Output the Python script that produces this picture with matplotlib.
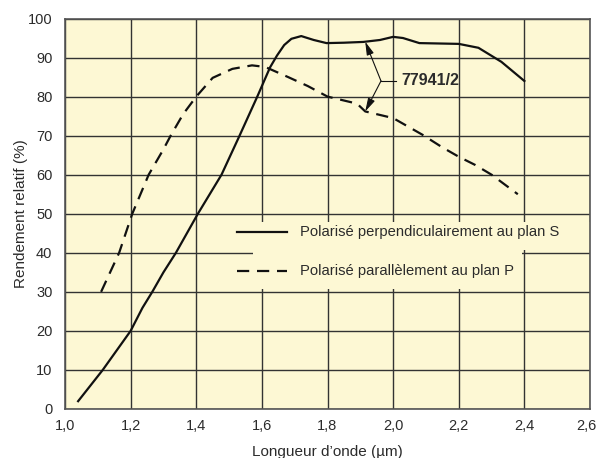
import matplotlib
matplotlib.use("Agg")
import matplotlib.pyplot as plt
from matplotlib.patches import Rectangle
from matplotlib.transforms import ScaledTranslation
import numpy as np

# Polarisation S (perpendiculaire) - trait plein
s_x = [1.04, 1.115, 1.20, 1.236, 1.266, 1.30, 1.338, 1.405, 1.477, 1.532, 1.586, 1.625,
       1.646, 1.668, 1.69, 1.72, 1.758, 1.797, 1.85, 1.909, 1.96, 2.00, 2.03, 2.08,
       2.20, 2.26, 2.33, 2.40]
s_y = [2, 10, 20, 25.9, 30, 35, 40, 50, 60, 70, 80, 87.5,
       90.5, 93.2, 94.8, 95.5, 94.5, 93.7, 93.8, 94.0, 94.5, 95.3, 95.0, 93.7,
       93.5, 92.5, 88.9, 84.0]

# Polarisation P (parallele) - tirets
p_x = [1.11, 1.165, 1.205, 1.255, 1.30, 1.322, 1.36, 1.40, 1.45, 1.51, 1.57, 1.61,
       1.68, 1.74, 1.80, 1.89, 1.915, 2.00, 2.09, 2.15, 2.20, 2.25, 2.30, 2.38]
p_y = [30, 40, 50, 60, 66.5, 70, 75.5, 80, 84.8, 87.1, 88.0, 87.6,
       85.0, 82.7, 80.0, 78.2, 76.2, 74.5, 70.2, 67.0, 64.6, 62.5, 60.0, 55.0]

x_ticks = [1.0, 1.2, 1.4, 1.6, 1.8, 2.0, 2.2, 2.4, 2.6]
x_labels = ["1,0", "1,2", "1,4", "1,6", "1,8", "2,0", "2,2", "2,4", "2,6"]
y_ticks = list(range(0, 101, 10))

label_s = "Polarisé perpendiculairement au plan S"
label_p = "Polarisé parallèlement au plan P"
ref_text = "77941/2"

plt.rcParams["font.family"] = ["Liberation Sans Narrow", "Liberation Sans", "DejaVu Sans"]
text_col = "#2b2b2b"
bg_col = "#fdf8d4"
line_col = "#111111"

fig = plt.figure(figsize=(5.96, 4.58), dpi=100)
ax = fig.add_axes([65 / 596, 49 / 458, 525 / 596, 390.5 / 458])
ax.set_facecolor(bg_col)

ax.set_xlim(1.0, 2.6)
ax.set_ylim(0, 100)
ax.set_xticks(x_ticks)
ax.set_xticklabels(x_labels)
ax.set_yticks(y_ticks)
ax.tick_params(length=0, labelsize=10.5, colors=text_col)
ax.tick_params(axis="x", pad=7)
ax.tick_params(axis="y", pad=9)
ax.grid(True, color="#333333", lw=1.0, zorder=1)
ax.set_axisbelow(True)
for sp in ax.spines.values():
    sp.set_color("#555555")
    sp.set_linewidth(1.2)

# dernier libelle un peu a gauche pour rester dans la figure
last = ax.get_xticklabels()[-1]
last.set_transform(last.get_transform() + ScaledTranslation(-4 / 100, 0, fig.dpi_scale_trans))

# zone de legende : masque le quadrillage
for (x0, y0, w, h) in [(0.358, 0.407, 0.642, 0.072), (0.358, 0.307, 0.512, 0.100)]:
    ax.add_patch(Rectangle((x0, y0), w, h, transform=ax.transAxes,
                           facecolor=bg_col, edgecolor="none", zorder=1.5))

ax.plot(s_x, s_y, color=line_col, lw=1.6, zorder=3)
ax.plot(p_x, p_y, color=line_col, lw=1.6, zorder=3, dashes=(5.5, 3.5))

ax.plot([0.3276, 0.4229], [0.453, 0.453], transform=ax.transAxes,
        color=line_col, lw=1.6, zorder=3)
ax.plot([0.3276, 0.4229], [0.353, 0.353], transform=ax.transAxes,
        color=line_col, lw=1.6, zorder=3, dashes=(5.5, 3.5))
ax.text(0.4476, 0.453, label_s, transform=ax.transAxes, va="center", ha="left",
        fontsize=10.6, color=text_col, zorder=4)
ax.text(0.4476, 0.353, label_p, transform=ax.transAxes, va="center", ha="left",
        fontsize=10.6, color=text_col, zorder=4)

# renvoi vers les deux courbes
jx, jy = 1.963, 84.0
tip_x = 1.915
for cx, cy in [(s_x, s_y), (p_x, p_y)]:
    ty = float(np.interp(tip_x, cx, cy))
    ax.annotate("", xy=(tip_x, ty), xytext=(jx, jy),
                arrowprops=dict(arrowstyle="-|>,head_length=0.8,head_width=0.22",
                                color=line_col, lw=0.8, shrinkA=0, shrinkB=0),
                zorder=4)
ax.plot([jx, 2.01], [jy, jy], color=line_col, lw=0.8, zorder=4)
ax.text(2.025, jy, ref_text, va="center", ha="left", fontsize=11.5,
        fontweight="bold", color=text_col, zorder=4)

ax.set_xlabel("Longueur d’onde (µm)", fontsize=11, color=text_col, labelpad=9)
ax.set_ylabel("Rendement relatif (%)", fontsize=11, color=text_col, labelpad=0)

fig.savefig("out.png", dpi=100)
